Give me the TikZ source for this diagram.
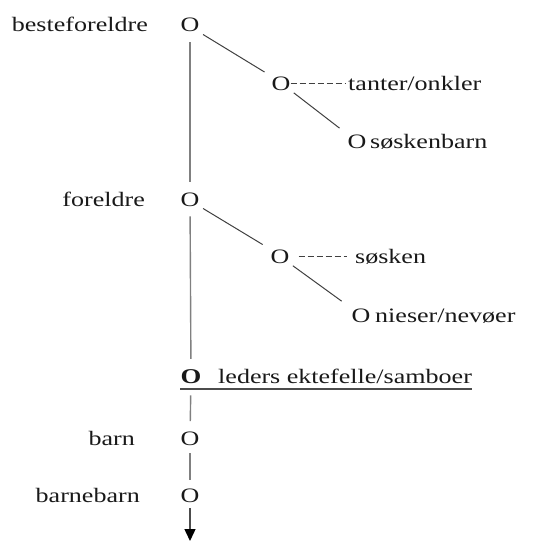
\documentclass[tikz,border=0pt]{standalone}
\usepackage{fontspec}
\setmainfont{Liberation Serif}[FakeStretch=1.27]
\usetikzlibrary{arrows.meta,calc}
\tikzset{
  person/.style={inner sep=0pt, anchor=base, text=black!90, font=\fontsize{20.5}{24}\selectfont},
  tag/.style={inner sep=0pt, text=black!90, font=\fontsize{20.5}{24}\selectfont},
  spine/.style={draw=black!50, line width=1.4pt, shorten <=10pt, shorten >=10pt},
  kin/.style={draw=black!75, line width=1pt, shorten <=4pt, shorten >=9pt},
  rel/.style={draw=black!75, line width=1.2pt, dash pattern=on 6pt off 3pt},
}

\begin{document}
\begin{tikzpicture}[x=1pt,y=-1pt]
		\useasboundingbox (0,0) rectangle (533,543);
		% rett linje oppover og nedover
		\node[person] (gp) at (190,32) {O};
		\node[tag,anchor=base east] (gplbl) at (148,32) {besteforeldre};
		\node[person] (par) at (190,206) {O};
		\node[tag,anchor=base east] (parlbl) at (145,206) {foreldre};
		\node[person,font=\fontsize{21}{24}\selectfont\bfseries] (ego) at (191,383) {O};
		\node[tag,anchor=base west] (egolbl) at (218,383) {leders ektefelle/samboer};
		\node[person] (child) at (190,445) {O};
		\node[tag,anchor=base east] (childlbl) at (135,445) {barn};
		\node[person] (gchild) at (190,502) {O};
		\node[tag,anchor=base east] (gchildlbl) at (140,502) {barnebarn};
		\coordinate (down) at (190,541);
		% sidelinjer
		\node[person] (aunt) at (281,90) {O};
		\node[tag,anchor=base west] (auntlbl) at (348,90) {tanter/onkler};
		\node[person] (cousin) at (357,148) {O};
		\node[tag,anchor=base west] (cousinlbl) at (370,148) {søskenbarn};
		\node[person] (sib) at (280,263) {O};
		\node[tag,anchor=base west] (siblbl) at (355,263) {søsken};
		\node[person] (nibl) at (361,322) {O};
		\node[tag,anchor=base west] (nibllbl) at (375,322) {nieser/nevøer};

		\draw[spine] (gp) -- (par);
		\draw[spine] (par) -- (ego);
		\draw[spine,shorten <=12pt] (ego) -- (child);
		\draw[spine,shorten <=8pt,shorten >=8pt] (child) -- (gchild);
		\draw[spine,draw=black!70,shorten <=6pt,shorten >=0pt,-{Triangle[width=11pt,length=12pt,black]}] (gchild) -- (down);

		\draw[kin,shorten >=8pt] (gp.south east) -- (aunt.north west);
		\draw[kin,shorten >=10pt] (aunt.south east) -- (cousin.north west);
		\draw[kin] (par.south east) -- (sib.north west);
		\draw[kin,shorten >=12pt] (sib.south east) -- (nibl.north west);

		\draw[rel,shorten >=3pt] (aunt.east) -- (aunt.east -| auntlbl.west);
		\draw[rel,shorten <=9pt,shorten >=8pt] (sib.east) -- (sib.east -| siblbl.west);

		\draw[draw=black!70,line width=1.3pt] ([yshift=-6pt]ego.base west) -- ([yshift=-6pt]ego.base west -| egolbl.east);
		
		\end{tikzpicture}
\end{document}
